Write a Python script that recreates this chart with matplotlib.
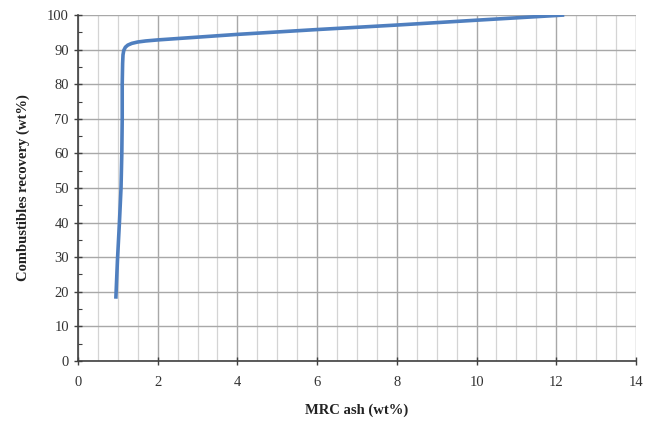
import matplotlib
matplotlib.use("Agg")
import matplotlib.pyplot as plt
import numpy as np

mrc_ash = [0.95, 0.99, 1.04, 1.08, 1.10, 1.11, 1.11, 1.12, 1.13, 1.15, 1.19, 1.25, 1.35, 1.5, 1.7, 2.0, 3.0, 4.0, 6.0, 8.0, 10.0, 12.2]
recovery = [18, 29, 40, 50, 60, 70, 80, 86, 88.5, 89.8, 90.7, 91.3, 91.8, 92.2, 92.5, 92.8, 93.6, 94.4, 95.8, 97.1, 98.5, 100]

x_ticks = [0, 2, 4, 6, 8, 10, 12, 14]
y_ticks = [0, 10, 20, 30, 40, 50, 60, 70, 80, 90, 100]

plt.rcParams['font.family'] = ['Liberation Serif', 'DejaVu Serif']

fig = plt.figure(figsize=(6.46, 4.24), dpi=100)
ax = fig.add_axes([0.1207, 0.1486, 0.8638, 0.816])

ax.set_xlim(0, 14)
ax.set_ylim(0, 100)
ax.set_xticks(x_ticks)
ax.set_yticks(y_ticks)
ax.set_xticks(np.arange(0, 14.01, 0.5), minor=True)
ax.set_yticks(np.arange(0, 100.1, 5), minor=True)

ax.grid(which='major', axis='both', color='#a8a8a8', linewidth=1.0)
ax.grid(which='minor', axis='x', color='#d4d4d4', linewidth=0.9)
ax.set_axisbelow(True)

ax.plot(mrc_ash, recovery, color='#4f7fbf', linewidth=2.6, solid_capstyle='butt',
        solid_joinstyle='round', zorder=3)

for s in ['top', 'right']:
    ax.spines[s].set_visible(False)
for s in ['left', 'bottom']:
    ax.spines[s].set_color('#404040')
    ax.spines[s].set_linewidth(1.2)

ax.tick_params(axis='both', which='major', direction='inout', length=6, width=1, color='#404040', labelsize=10.5, labelcolor='#333333')
ax.tick_params(axis='y', which='minor', direction='in', length=3, width=0.8, color='#404040')
ax.tick_params(axis='x', which='minor', length=0)
ax.tick_params(axis='x', pad=8)

ax.set_xlabel('MRC ash (wt%)', fontsize=10.5, fontweight='bold', color='#222222', labelpad=10)
ax.set_ylabel('Combustibles recovery (wt%)', fontsize=10.5, fontweight='bold', color='#222222', labelpad=12)

fig.savefig('out.png', dpi=100)
